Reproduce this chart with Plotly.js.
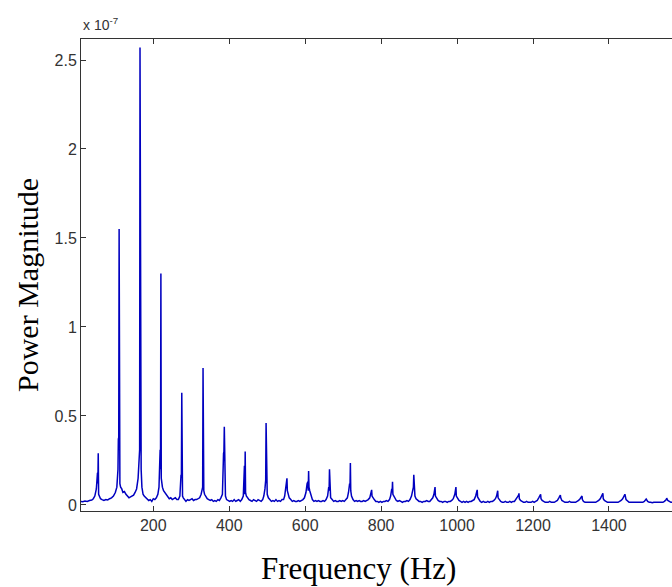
<!DOCTYPE html>
<html>
<head>
<meta charset="utf-8">
<script src="https://cdn.plot.ly/plotly-3.0.1.min.js"></script>
<style>html,body{margin:0;padding:0;background:#fff;}#chart{width:672px;height:587px;}</style>
</head>
<body>
<div id="chart"></div>
<script>
// Frequency (Hz)
const freqHz = [
8,14,20,26,32,38,42,46,50,53,54,55,56,58,61,65,70,75,80,85,90,95,100,104,107,108,109,110,111,112,114,117,120,124,128,132,136,140,144,148,152,156,160,163,164,165,166,167,168,170,173,176,180,184,188,192,196,200,204,208,212,215,218,219,220,221,222,224,227,230,234,238,242,246,250,254,258,262,266,270,273,274,275,276,277,279,282,286,290,294,298,302,306,310,314,318,322,326,328,330,331,332,333,335,338,342,346,350,354,358,362,366,370,374,378,382,385,386,387,388,390,393,397,401,405,409,413,417,421,425,429,433,437,440,441,442,443,445,448,452,456,460,464,468,472,476,480,484,488,491,494,496,497,498,500,503,507,511,515,519,523,527,531,535,539,543,546,549,551,552,553,555,558,562,566,570,574,578,582,586,590,594,598,602,605,607,608,609,610,612,615,619,623,627,631,635,639,643,647,651,655,659,662,663,664,665,667,671,675,679,683,687,691,695,699,703,707,711,714,717,718,719,720,722,726,730,734,738,742,746,750,754,758,762,766,770,773,775,776,778,782,786,790,794,798,802,806,810,814,818,822,825,828,829,830,831,833,836,840,844,848,852,856,860,864,868,872,876,880,883,885,886,887,889,892,896,900,904,908,912,916,920,924,928,932,936,939,941,942,943,946,950,954,958,962,966,970,974,978,982,986,990,994,996,997,998,1001,1005,1009,1013,1017,1021,1025,1029,1033,1037,1041,1045,1049,1052,1053,1054,1057,1061,1065,1069,1073,1077,1081,1085,1089,1093,1097,1101,1104,1106,1107,1108,1111,1115,1119,1123,1127,1131,1135,1139,1143,1147,1151,1155,1159,1162,1163,1164,1167,1171,1175,1179,1183,1187,1191,1195,1199,1203,1207,1211,1215,1218,1220,1221,1224,1228,1232,1236,1240,1244,1248,1252,1256,1260,1264,1268,1271,1272,1273,1276,1280,1284,1288,1292,1296,1300,1304,1308,1312,1316,1320,1324,1327,1329,1330,1333,1337,1341,1345,1349,1353,1357,1361,1365,1369,1373,1377,1381,1383,1384,1385,1388,1392,1396,1400,1404,1408,1412,1416,1420,1424,1428,1432,1436,1439,1441,1442,1445,1449,1453,1457,1461,1465,1469,1473,1477,1481,1485,1489,1493,1496,1497,1498,1502,1506,1510,1514,1518,1522,1526,1530,1534,1538,1542,1546,1549,1551,1552,1555,1559,1563,1567,1571,1580
];
// Power magnitude (x 10^-7)
const powerE7 = [
0.02,0.018,0.022,0.02,0.025,0.028,0.035,0.05,0.09,0.18,0.12,0.29,0.06,0.045,0.035,0.03,0.025,0.03,0.028,0.035,0.04,0.05,0.07,0.1,0.2,0.37,0.38,1.55,0.4,0.12,0.1,0.09,0.07,0.075,0.06,0.05,0.04,0.045,0.05,0.055,0.07,0.09,0.15,0.3,0.31,2.57,1.49,0.3,0.2,0.1,0.06,0.05,0.04,0.03,0.025,0.03,0.02,0.035,0.03,0.04,0.06,0.1,0.31,0.2,1.30,0.15,0.12,0.1,0.08,0.07,0.06,0.05,0.035,0.04,0.03,0.035,0.04,0.03,0.03,0.05,0.17,0.16,0.63,0.28,0.05,0.04,0.03,0.02,0.03,0.025,0.03,0.035,0.025,0.03,0.03,0.035,0.04,0.06,0.09,0.1,0.77,0.41,0.08,0.06,0.05,0.035,0.03,0.025,0.03,0.02,0.025,0.02,0.03,0.025,0.04,0.06,0.29,0.3,0.44,0.08,0.05,0.03,0.025,0.02,0.025,0.02,0.03,0.02,0.025,0.03,0.02,0.03,0.05,0.22,0.06,0.30,0.07,0.05,0.04,0.03,0.025,0.02,0.03,0.025,0.02,0.03,0.025,0.02,0.03,0.05,0.09,0.14,0.46,0.1,0.06,0.04,0.03,0.02,0.025,0.02,0.03,0.02,0.025,0.02,0.03,0.03,0.05,0.09,0.12,0.15,0.08,0.06,0.04,0.03,0.02,0.025,0.02,0.02,0.025,0.02,0.025,0.03,0.04,0.07,0.12,0.13,0.08,0.19,0.1,0.08,0.05,0.03,0.02,0.025,0.02,0.025,0.02,0.02,0.025,0.02,0.03,0.05,0.1,0.08,0.2,0.07,0.04,0.03,0.02,0.025,0.02,0.02,0.025,0.02,0.025,0.02,0.03,0.04,0.07,0.12,0.1,0.235,0.08,0.05,0.03,0.02,0.025,0.02,0.025,0.02,0.02,0.025,0.02,0.025,0.03,0.04,0.06,0.085,0.05,0.04,0.03,0.02,0.02,0.015,0.02,0.015,0.02,0.02,0.025,0.02,0.03,0.05,0.09,0.07,0.13,0.06,0.05,0.035,0.025,0.02,0.025,0.02,0.015,0.02,0.02,0.025,0.02,0.03,0.05,0.08,0.1,0.17,0.06,0.05,0.035,0.025,0.02,0.02,0.015,0.02,0.02,0.025,0.02,0.02,0.03,0.04,0.06,0.08,0.1,0.05,0.04,0.025,0.02,0.02,0.015,0.02,0.02,0.015,0.02,0.02,0.025,0.035,0.06,0.08,0.1,0.05,0.035,0.025,0.02,0.015,0.02,0.015,0.02,0.015,0.02,0.02,0.025,0.03,0.05,0.07,0.085,0.045,0.03,0.02,0.015,0.02,0.015,0.015,0.02,0.015,0.02,0.02,0.025,0.035,0.05,0.065,0.08,0.04,0.03,0.02,0.015,0.015,0.02,0.015,0.015,0.02,0.015,0.02,0.02,0.03,0.045,0.055,0.065,0.035,0.025,0.02,0.015,0.015,0.02,0.015,0.015,0.015,0.02,0.015,0.02,0.025,0.04,0.05,0.06,0.035,0.025,0.02,0.015,0.015,0.015,0.02,0.015,0.015,0.015,0.02,0.025,0.04,0.05,0.056,0.04,0.025,0.02,0.015,0.015,0.015,0.02,0.015,0.015,0.015,0.015,0.02,0.025,0.035,0.045,0.05,0.03,0.02,0.015,0.015,0.015,0.015,0.015,0.015,0.015,0.015,0.02,0.025,0.035,0.05,0.055,0.065,0.035,0.025,0.02,0.015,0.015,0.015,0.015,0.015,0.015,0.015,0.015,0.02,0.025,0.035,0.045,0.05,0.06,0.03,0.02,0.015,0.015,0.015,0.015,0.015,0.015,0.015,0.015,0.015,0.015,0.02,0.025,0.03,0.033,0.02,0.015,0.015,0.012,0.015,0.015,0.012,0.015,0.015,0.015,0.015,0.02,0.025,0.03,0.038,0.025,0.02,0.015,0.015,0.015,0.015,0.015
];
const xTickVals = [200,400,600,800,1000,1200,1400];
const yTickVals = [0,0.5,1,1.5,2,2.5];
const yTickText = ['0','0.5','1','1.5','2','2.5'];
const xTitle = 'Frequency (Hz)';
const yTitle = 'Power Magnitude';
const exponentLabel = 'x 10<sup>-7</sup>';

const trace = {
  x: freqHz, y: powerE7, type: 'scatter', mode: 'lines',
  line: {color: '#0000c0', width: 1.5},
  hoverinfo: 'skip'
};

const axisCommon = {
  showgrid: false, zeroline: false, showline: true, linecolor: '#333', linewidth: 1,
  ticks: 'inside', ticklen: 5, tickcolor: '#333', tickwidth: 1,
  tickfont: {family: 'Liberation Sans, Arial, sans-serif', size: 16, color: '#333'}
};

const layout = {
  width: 672, height: 587,
  margin: {l: 81, r: 0, t: 39, b: 76, pad: 0},
  paper_bgcolor: '#fff', plot_bgcolor: '#fff',
  showlegend: false,
  xaxis: Object.assign({}, axisCommon, {
    range: [9.6, 1566], tickvals: xTickVals, mirror: 'ticks'
  }),
  yaxis: Object.assign({}, axisCommon, {
    range: [-0.034, 2.618], tickvals: yTickVals, ticktext: yTickText, mirror: false
  }),
  annotations: [
    {text: xTitle, xref: 'paper', yref: 'paper', x: (358 - 81) / 591, y: 0, yanchor: 'middle', xanchor: 'center',
     yshift: -(568 - 511), showarrow: false,
     font: {family: 'Liberation Serif, Times New Roman, serif', size: 31, color: '#000'}},
    {text: yTitle, xref: 'paper', yref: 'paper', x: 0, y: (511 - 285) / 472, xanchor: 'center', yanchor: 'middle',
     xshift: -(81 - 27), textangle: -90, showarrow: false,
     font: {family: 'Liberation Serif, Times New Roman, serif', size: 30, color: '#000'}},
    {text: exponentLabel, xref: 'paper', yref: 'paper', x: 0, y: 1, xanchor: 'left', yanchor: 'bottom',
     xshift: 0, yshift: 4, showarrow: false,
     font: {family: 'Liberation Sans, Arial, sans-serif', size: 14, color: '#333'}}
  ]
};

Plotly.newPlot('chart', [trace], layout, {staticPlot: true, displayModeBar: false});
</script>
</body>
</html>
